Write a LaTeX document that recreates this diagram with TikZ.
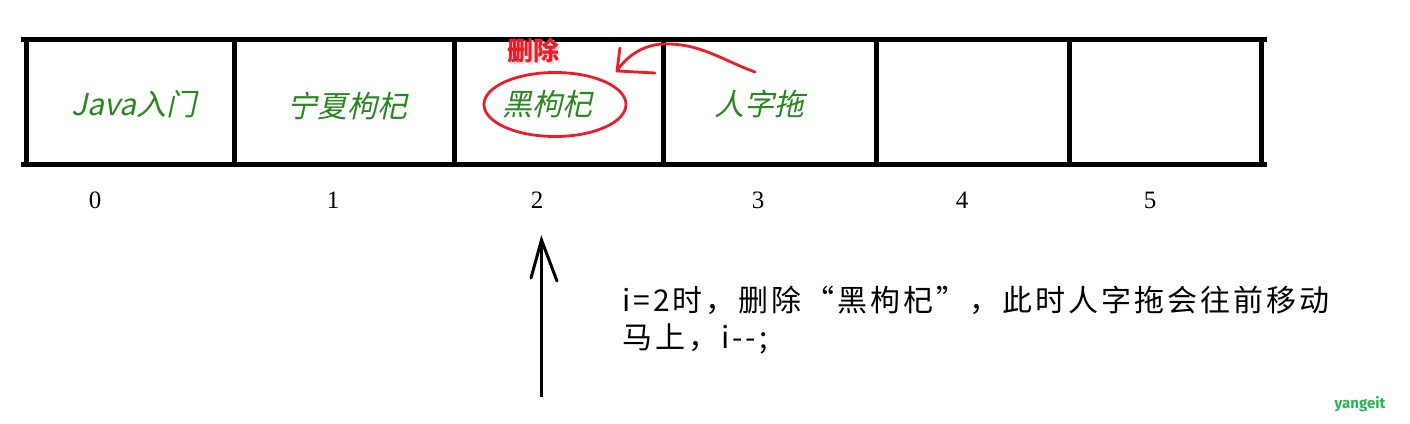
\documentclass[tikz,border=0pt]{standalone}
\usepackage{fontspec}
\setmainfont{Liberation Serif}
\newfontfamily\cjk{Noto Sans CJK SC}
\newfontfamily\cjknote[LetterSpace=10]{Noto Sans CJK SC}
\newfontfamily\cjkit[FakeSlant=0.22]{Noto Sans CJK SC}
\newfontfamily\wmfont{Fira Sans}
\definecolor{cellgreen}{RGB}{40,135,30}
\definecolor{markred}{RGB}{235,30,40}
\definecolor{wmgreen}{RGB}{40,180,80}
\tikzset{
  grid/.style={line width=5pt},
  celltext/.style={font=\cjkit\fontsize{30}{33}\selectfont, text=cellgreen, inner sep=0pt},
  idx/.style={font=\fontsize{25}{28}\selectfont, inner sep=0pt},
  note/.style={font=\cjknote\fontsize{30}{34}\selectfont, anchor=west, inner sep=0pt},
  redline/.style={draw=markred, line width=2.8pt, line cap=round, line join=round},
}
\begin{document}
\begin{tikzpicture}[x=1pt,y=-1pt]
\useasboundingbox (0,0) rectangle (1410,423);
% table
\draw[grid] (21,39.5) -- (1267,39.5);
\draw[grid] (21,164.5) -- (1267,164.5);
\foreach \x in {26.5,234,454.5,663,876,1069.5,1261.5}
  \draw[grid] (\x,37) -- (\x,164.5);
% cell texts
\node[celltext] (c0) at (134,104) {Java入门};
\node[celltext] (c1) at (347,106) {宁夏枸杞};
\node[celltext] (c2) at (547,104) {黑枸杞};
\node[celltext] (c3) at (759,104) {人字拖};
% indices
\node[idx] (i0) at (95,200) {0};
\node[idx] (i1) at (333,200) {1};
\node[idx] (i2) at (537,200) {2};
\node[idx] (i3) at (758,200) {3};
\node[idx] (i4) at (962,200) {4};
\node[idx] (i5) at (1150,200) {5};
% red marks
\draw[redline] (555,104.5) ellipse [x radius=71, y radius=32];
\node[font=\cjk\bfseries\fontsize{26}{28}\selectfont, text=black!12, inner sep=0pt] at (535,53) {删除};
\node[font=\cjk\bfseries\fontsize{26}{28}\selectfont, text=markred, inner sep=0pt] (del) at (533,51) {删除};
\coordinate (rs) at (755,72);
\coordinate (rm) at (663,44);
\coordinate (rt) at (617,71);
\draw[redline] (rs) .. controls (722,60) and (700,43) .. (rm) .. controls (642,45) and (626,57) .. (rt);
\draw[redline] (620,48) -- (rt) -- (655,73);
% black arrow
\coordinate (ab) at (541.5,397);
\coordinate (at) at (541.5,240);
\draw[line width=3pt] (ab) -- (at);
\draw[line width=3pt, line cap=round, line join=miter] (531,278) -- (at) -- (557,281);
% note
\node[note] (n1) at (622,300) {i=2时，删除“黑枸杞”，此时人字拖会往前移动};
\node[note] (n2) at (622,339) {马上，i{-}{-};};
% watermark
\node[font=\wmfont\bfseries\fontsize{15}{17}\selectfont, text=wmgreen, inner sep=0pt] (wm) at (1360,404) {yangeit};
\end{tikzpicture}
\end{document}
